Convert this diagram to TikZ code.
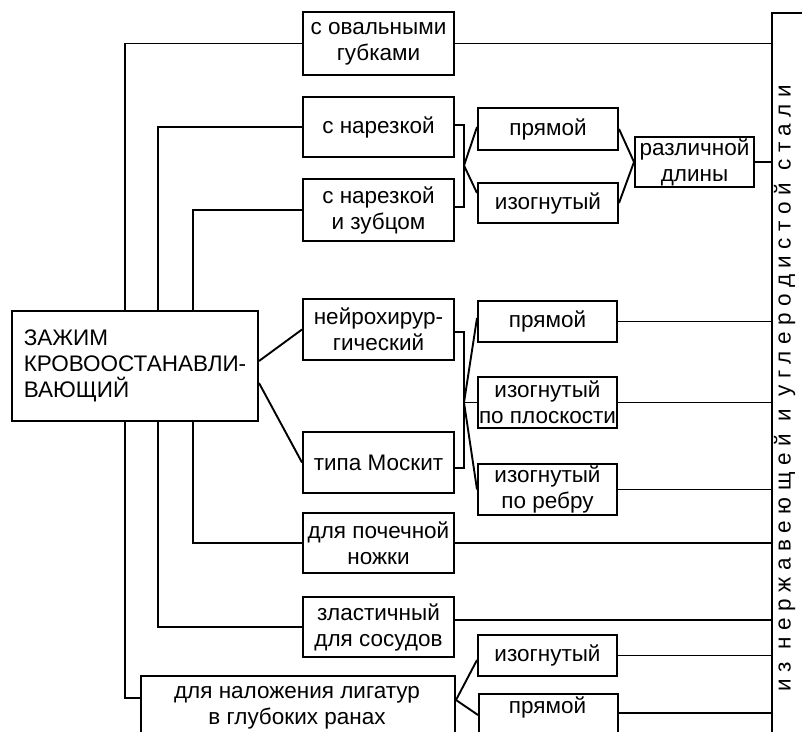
\documentclass[tikz,border=0pt]{standalone}
\usepackage{fontspec}
\setmainfont{Liberation Sans}
\newfontfamily\spacedfont[LetterSpace=29]{Liberation Sans}
\usetikzlibrary{calc}
\begin{document}
\begin{tikzpicture}[x=1pt,y=-1pt,
  txt/.style={font=\fontsize{22.5}{26}\selectfont},
  box/.style={draw,line width=2pt,inner sep=0pt,align=center,txt},
  link/.style={line width=1.9pt}]
\useasboundingbox (0,0) rectangle (802,731);

% material column on the right
\node[draw,line width=2pt,inner sep=0pt,minimum width=80pt,minimum height=760pt,anchor=north west] (steel) at (771,12) {};
\node[rotate=90,font=\spacedfont\fontsize{22.5}{26}\selectfont] (steeltext) at (784.5,388) {из нержавеющей и углеродистой стали};

% main clamp
\node[box,minimum width=246pt,minimum height=110pt,align=left] (main) at (135,366) {ЗАЖИМ\\КРОВООСТАНАВЛИ-\\ВАЮЩИЙ};

% first column of kinds
\node[box,minimum width=151pt,minimum height=63pt] (oval) at (378.5,43.5) {с овальными\\губками};
\node[box,minimum width=151pt,minimum height=60pt] (rez) at (378.5,127) {с нарезкой};
\node[box,minimum width=151pt,minimum height=62pt] (rezz) at (378.5,210) {с нарезкой\\и зубцом};
\node[box,minimum width=151pt,minimum height=61pt] (neuro) at (378.5,329.5) {нейрохирур-\\гический};
\node[box,minimum width=151pt,minimum height=61pt] (mosk) at (378.5,462.5) {типа Москит};
\node[box,minimum width=151pt,minimum height=60pt] (poch) at (378.5,543) {для почечной\\ножки};
\node[box,minimum width=151pt,minimum height=60pt] (elast) at (378.5,627) {зластичный\\для сосудов};
\node[box,minimum width=314pt,minimum height=90pt,anchor=north west] (lig) at (140,675) {};
\node[txt,align=center] (ligtext) at (297,708) {для наложения лигатур\\в глубоких ранах};

% second column of shapes
\node[box,minimum width=140pt,minimum height=42pt] (pr1) at (548,129) {прямой};
\node[box,minimum width=140pt,minimum height=40pt] (iz1) at (548,203) {изогнутый};
\node[box,minimum width=119pt,minimum height=50pt] (razl) at (694.5,162) {различной\\длины};
\node[box,minimum width=139pt,minimum height=41pt] (pr2) at (547.5,321.5) {прямой};
\node[box,minimum width=139pt,minimum height=51pt] (izpl) at (547.5,402.5) {изогнутый\\по плоскости};
\node[box,minimum width=139pt,minimum height=51pt] (izreb) at (547.5,489.5) {изогнутый\\по ребру};
\node[box,minimum width=139pt,minimum height=41pt] (iz3) at (547.5,655.5) {изогнутый};
\node[box,minimum width=139pt,minimum height=60pt,anchor=north west] (pr3) at (478,693) {};
\node[txt,anchor=base] (pr3text) at (547.5,713) {прямой};

% trunk lines from the main clamp
\draw[link] ([xshift=114pt]main.north west) |- (oval.west);
\draw[link] ([xshift=147pt]main.north west) |- (rez.west);
\draw[link] ([xshift=182pt]main.north west) |- (rezz.west);
\draw[link] ([xshift=182pt]main.south west) |- (poch.west);
\draw[link] ([xshift=147pt]main.south west) |- (elast.west);
\draw[link] ([xshift=114pt]main.south west) |- ([yshift=-23pt]lig.north west);
\draw[link] ([yshift=5pt]main.east) -- (neuro.west);
\draw[link] ([yshift=-17pt]main.east) -- (mosk.west);

% serrated jaws
\draw[link] ([yshift=2pt]rez.east) -- ++(9,0) |- ([yshift=3pt]rezz.east);
\coordinate (j1) at ($(rez.east)!0.5!(rezz.east) + (9,-3)$);
\draw[link] (j1) -- ([yshift=2pt]pr1.west);
\draw[link] (j1) -- ([yshift=10pt]iz1.west);
\draw[link] (pr1.east) -- (razl.west);
\draw[link] (iz1.east) -- (razl.west);

% neurosurgical and mosquito
\draw[link] ([yshift=-2.5pt]neuro.east) -- ++(9,0) |- ([yshift=-5.5pt]mosk.east);
\path (neuro.east) ++(9,0) coordinate (b2);
\coordinate (j2) at (b2 |- izpl.west);
\draw[link] (j2) -- ([yshift=3.5pt]pr2.west);
\draw[link] (j2) -- (izpl.west);
\draw[link] (j2) -- (izreb.west);

% ligature clamp
\coordinate (j3) at ([yshift=-25pt]lig.north east);
\draw[link] (j3) -- ([yshift=-4.5pt]iz3.west);
\draw[link] (j3) -- ([yshift=-22pt]pr3.north west);

% lines to the material column
\draw[link] (oval.east) -- (oval.east -| steel.west);
\draw[link] (razl.east) -- (razl.east -| steel.west);
\draw[link] (pr2.east) -- (pr2.east -| steel.west);
\draw[link] (izpl.east) -- (izpl.east -| steel.west);
\draw[link] (izreb.east) -- (izreb.east -| steel.west);
\draw[link] (poch.east) -- (poch.east -| steel.west);
\draw[link] ([yshift=7pt]elast.east) -- ([yshift=7pt]elast.east -| steel.west);
\draw[link] (iz3.east) -- (iz3.east -| steel.west);
\draw[link] ([yshift=-20pt]pr3.north east) -- ([yshift=-20pt]pr3.north east -| steel.west);
\end{tikzpicture}
\end{document}
